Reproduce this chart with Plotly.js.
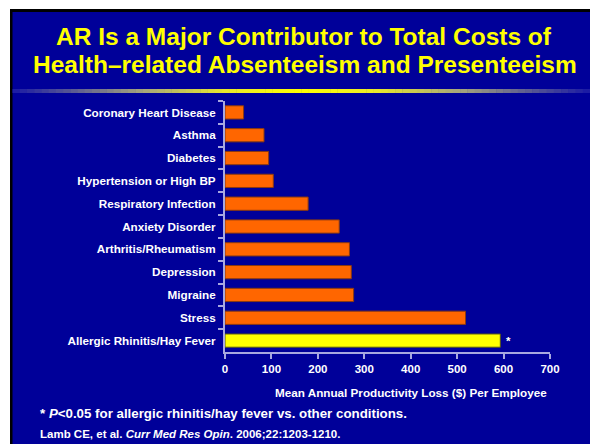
<!DOCTYPE html>
<html>
<head>
<meta charset="utf-8">
<script src="https://cdn.plot.ly/plotly-3.0.1.min.js"></script>
<style>html,body{margin:0;padding:0;background:#fff;}#chart{width:590px;height:444px;}</style>
</head>
<body>
<div id="chart"></div>
<script>
const categories = ['Coronary Heart Disease','Asthma','Diabetes','Hypertension or High BP','Respiratory Infection','Anxiety Disorder','Arthritis/Rheumatism','Depression','Migraine','Stress','Allergic Rhinitis/Hay Fever'];
const values = [40, 84, 94, 104, 179, 246, 268, 272, 277, 518, 593];
const significant = [false,false,false,false,false,false,false,false,false,false,true];
const xTickVals = [0, 100, 200, 300, 400, 500, 600, 700];
const titleLines = ['AR Is a Major Contributor to Total Costs of', 'Health\u2013related Absenteeism and Presenteeism'];
const xTitle = 'Mean Annual Productivity Loss ($) Per Employee';
const footnote = '* <i>P</i>&lt;0.05 for allergic rhinitis/hay fever vs. other conditions.';
const citation = 'Lamb CE, et al. <i>Curr Med Res Opin</i>. 2006;22:1203-1210.';

const W = 590, H = 444;
const M = {l: 225, r: 40, t: 101, b: 92};
const PW = W - M.l - M.r, PH = H - M.t - M.b;
const px = p => (p - M.l) / PW;
const py = p => (H - M.b - p) / PH;

const BLUE = '#000099';
const FONT = '"Liberation Sans", Arial, sans-serif';

const barColors = significant.map(s => s ? '#FFFF00' : '#FF6600');
const lineColors = significant.map(s => s ? '#55551a' : '#8a3a10');

const shapes = [
  {type:'rect', xref:'paper', yref:'paper', x0:px(0), x1:px(W), y0:py(0), y1:py(9), fillcolor:'#ffffff', line:{width:0}},
  {type:'rect', xref:'paper', yref:'paper', x0:px(0), x1:px(10), y0:py(0), y1:py(H), fillcolor:'#ffffff', line:{width:0}},
  {type:'rect', xref:'paper', yref:'paper', x0:px(10), x1:px(W), y0:py(9), y1:py(12), fillcolor:'#000000', line:{width:0}},
  {type:'rect', xref:'paper', yref:'paper', x0:px(10), x1:px(12.5), y0:py(9), y1:py(H), fillcolor:'#000000', line:{width:0}}
];
// gradient rule under title
const gx0 = 12.5, gx1 = 590, gc = 301, N = 80;
function lerp(a,b,t){return a+(b-a)*t;}
function gradColor(t){
  const stops = [[0,[255,255,0]],[0.25,[235,235,40]],[0.55,[165,165,125]],[1,[25,25,165]]];
  for (let i=0;i<stops.length-1;i++){
    const [ta,ca]=stops[i],[tb,cb]=stops[i+1];
    if (t<=tb){const u=(t-ta)/(tb-ta);return 'rgb('+ca.map((c,k)=>Math.round(lerp(c,cb[k],u))).join(',')+')';}
  }
  return 'rgb(25,25,165)';
}
for (let i=0;i<N;i++){
  const a = gx0 + (gx1-gx0)*i/N, b = gx0 + (gx1-gx0)*(i+1)/N;
  const mid = (a+b)/2;
  const t = Math.min(1, Math.abs(mid-gc)/(gc-gx0));
  shapes.push({type:'rect', xref:'paper', yref:'paper', x0:px(a), x1:px(b+0.5), y0:py(89), y1:py(93), fillcolor:gradColor(t), line:{width:0}});
}

const annotations = [
  {text:titleLines[0], xref:'paper', yref:'paper', x:px(304), y:py(36.5), xanchor:'center', yanchor:'middle', showarrow:false, font:{family:FONT, size:24.5, color:'#FFFF00', weight:'bold'}},
  {text:titleLines[1], xref:'paper', yref:'paper', x:px(305), y:py(64.5), xanchor:'center', yanchor:'middle', showarrow:false, font:{family:FONT, size:24.5, color:'#FFFF00', weight:'bold'}},
  {text:xTitle, xref:'paper', yref:'paper', x:px(549), y:py(392), xanchor:'right', yanchor:'middle', showarrow:false, font:{family:FONT, size:11.7, color:'#ffffff', weight:'bold'}},
  {text:footnote, xref:'paper', yref:'paper', x:px(38), y:py(413), xanchor:'left', yanchor:'middle', showarrow:false, font:{family:FONT, size:13.3, color:'#ffffff', weight:'bold'}},
  {text:citation, xref:'paper', yref:'paper', x:px(38), y:py(434), xanchor:'left', yanchor:'middle', showarrow:false, font:{family:FONT, size:11.5, color:'#ffffff', weight:'bold'}}
];
values.forEach((v,i)=>{
  if (significant[i]) annotations.push({text:'*', xref:'x', yref:'y', x:v, y:categories[i], xanchor:'left', yanchor:'middle', xshift:4, showarrow:false, font:{family:FONT, size:11.5, color:'#ffffff', weight:'bold'}});
});

const trace = {
  type:'bar', orientation:'h', x: values, y: categories,
  marker:{color:barColors, line:{color:lineColors, width:1}},
  hoverinfo:'skip'
};

const AXC = '#a8a8e0';
const layout = {
  width:W, height:H,
  margin:{l:M.l, r:M.r, t:M.t, b:M.b, pad:0},
  paper_bgcolor:BLUE, plot_bgcolor:BLUE,
  showlegend:false, bargap:0.42,
  font:{family:FONT, color:'#ffffff'},
  xaxis:{range:[0,700], tickvals:xTickVals, ticktext:xTickVals.map(String), showgrid:false, zeroline:false,
    showline:true, linecolor:AXC, linewidth:2, ticks:'outside', ticklen:5, tickwidth:2, tickcolor:AXC,
    tickfont:{family:FONT, size:11.5, color:'#ffffff', weight:'bold'}, fixedrange:true},
  yaxis:{type:'category', autorange:'reversed', showgrid:false, zeroline:false, showline:true, linecolor:AXC, linewidth:2,
    ticks:'outside', ticklen:5, tickwidth:2, tickcolor:AXC, tickson:'boundaries', ticklabelstandoff:5,
    tickfont:{family:FONT, size:11.7, color:'#ffffff', weight:'bold'}, fixedrange:true},
  shapes:shapes, annotations:annotations
};
Plotly.newPlot('chart', [trace], layout, {displayModeBar:false, staticPlot:true});
</script>
</body>
</html>
